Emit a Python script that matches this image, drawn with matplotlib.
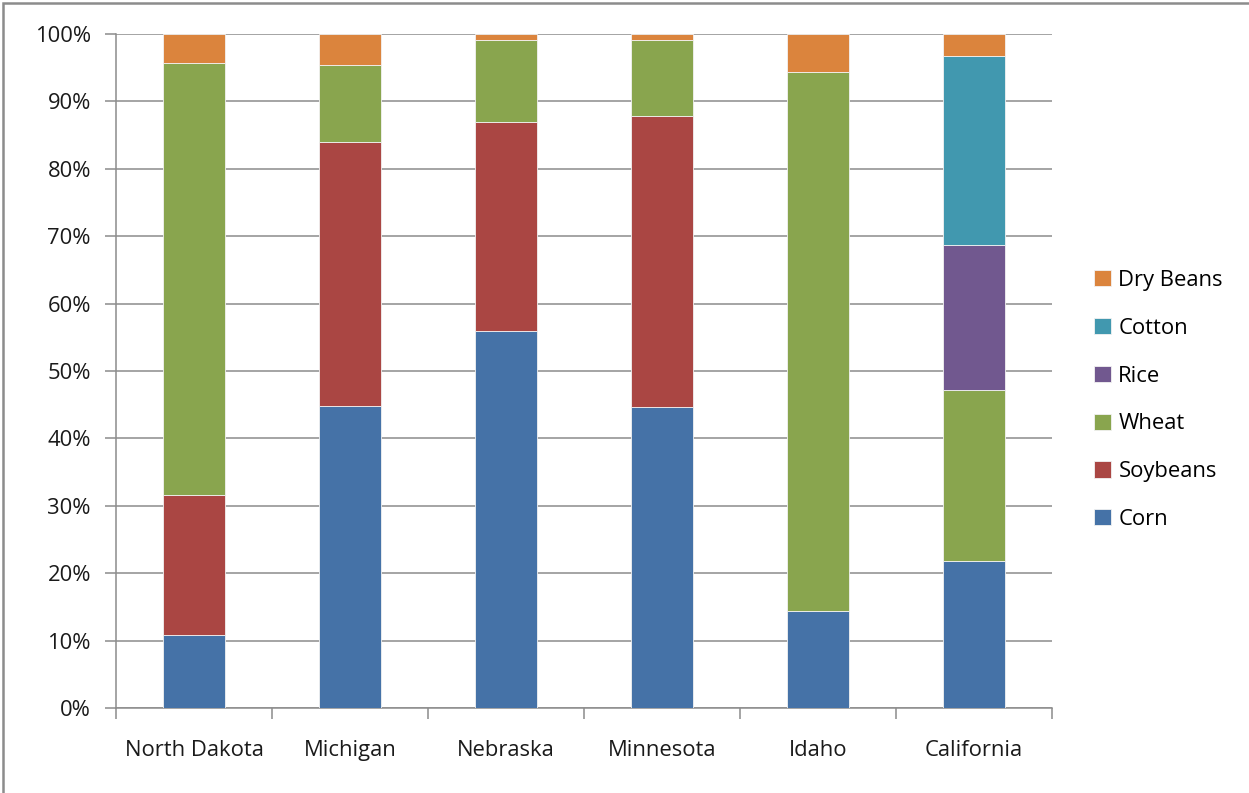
import numpy as np
import matplotlib
matplotlib.use("Agg")
import matplotlib.pyplot as plt
from matplotlib.patches import Rectangle

states = ["North Dakota", "Michigan", "Nebraska", "Minnesota", "Idaho", "California"]

# shares in percent
corn = [10.8, 44.8, 55.9, 44.7, 14.4, 21.8]
soybeans = [20.8, 39.2, 31.0, 43.2, 0.0, 0.0]
wheat = [64.1, 11.4, 12.2, 11.2, 80.0, 25.4]
rice = [0.0, 0.0, 0.0, 0.0, 0.0, 21.5]
cotton = [0.0, 0.0, 0.0, 0.0, 0.0, 28.0]
dry_beans = [4.3, 4.6, 0.9, 0.9, 5.6, 3.3]

crops = ["Corn", "Soybeans", "Wheat", "Rice", "Cotton", "Dry Beans"]
colors = ["#4572A7", "#AA4643", "#89A54E", "#71588F", "#4198AF", "#DB843D"]

plt.rcParams['font.family'] = ['Open Sans', 'DejaVu Sans']
fs = 15.8

fig = plt.figure(figsize=(12.49, 7.93), dpi=100)
ax = fig.add_axes([116 / 1249, 1 - 708 / 793, (1052 - 116) / 1249, (708 - 34) / 793])

x = np.arange(len(states))
bottom = np.zeros(len(states))
handles = []
for name, vals, col in zip(crops, [corn, soybeans, wheat, rice, cotton, dry_beans], colors):
    vals = np.array(vals)
    b = ax.bar(x, vals, 0.4, bottom=bottom, color=col, edgecolor="#f2f2f2",
               linewidth=0.6, label=name, zorder=3)
    handles.append(b)
    bottom += vals

ax.set_xlim(-0.5, len(states) - 0.5)
ax.set_ylim(0, 100)
ax.set_yticks(np.arange(0, 101, 10))
ax.set_yticklabels([f"{v}%" for v in range(0, 101, 10)])
ax.yaxis.grid(True, color="#8c8c8c", linewidth=1.1, zorder=0)

ax.set_xticks(x)
ax.set_xticklabels(states)
ax.set_xticks(np.arange(-0.5, len(states), 1), minor=True)
ax.tick_params(axis="x", which="major", length=0, pad=23, labelsize=fs, colors="#1a1a1a")
ax.tick_params(axis="x", which="minor", length=8, color="#8c8c8c", width=1.1)
ax.tick_params(axis="y", length=8, width=1.1, labelsize=fs, pad=10,
               colors="#8c8c8c", labelcolor="#1a1a1a")

for side in ["top", "right"]:
    ax.spines[side].set_visible(False)
for side in ["left", "bottom"]:
    ax.spines[side].set_color("#8c8c8c")
    ax.spines[side].set_linewidth(1.1)

leg = ax.legend(handles[::-1], crops[::-1], loc="center left", bbox_to_anchor=(1.024, 0.457),
                frameon=False, fontsize=fs, handlelength=0.75, handleheight=0.75,
                handletextpad=0.35, labelspacing=1.22)

# outer chart border
fig.patches.append(Rectangle((3 / 1249, -0.02), 1.2, 1 - 3 / 793 + 0.02,
                             transform=fig.transFigure, fill=False,
                             edgecolor="#8c8c8c", linewidth=1.8))

fig.savefig("out.png", dpi=100)
